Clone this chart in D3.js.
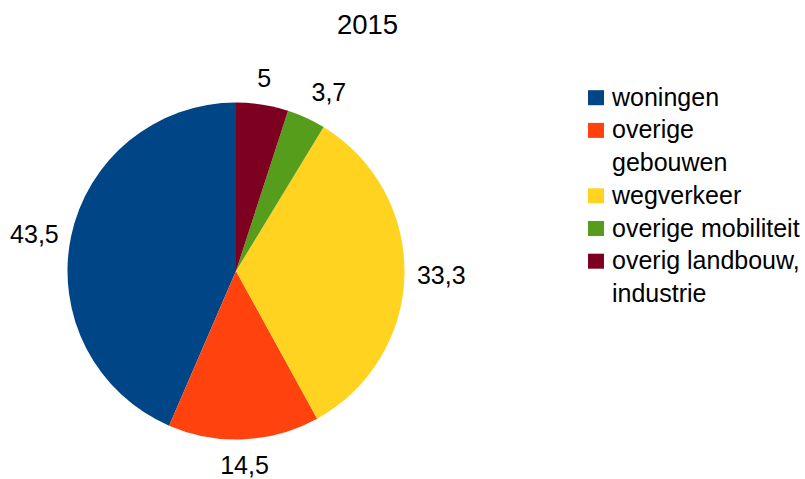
<!DOCTYPE html>
<html><head><meta charset="utf-8">
<script src="https://cdn.jsdelivr.net/npm/d3@7"></script>
<style>body{margin:0;background:#fff}svg{display:block}text{font-family:"Liberation Sans",Arial,sans-serif;fill:#000}</style>
</head><body><svg id="c" width="805" height="479"></svg>
<script>
const title = "2015";
const categories = ["woningen", "overige gebouwen", "wegverkeer", "overige mobiliteit", "overig landbouw, industrie"];
const legendLines = [["woningen"], ["overige", "gebouwen"], ["wegverkeer"], ["overige mobiliteit"], ["overig landbouw,", "industrie"]];
const values = [43.5, 14.5, 33.3, 3.7, 5];
const valueLabels = ["43,5", "14,5", "33,3", "3,7", "5"];
const colors = ["#004586", "#ff420e", "#ffd320", "#579d1c", "#7e0021"];

const svg = d3.select("#c");
const W = 805, H = 479;
svg.append("rect").attr("width", W).attr("height", H).attr("fill", "#fff");

svg.append("text").attr("x", 367.5).attr("y", 34).attr("text-anchor", "middle")
  .attr("font-size", 27.5).text(title);

const cx = 236, cy = 271, r = 168.5;
const pie = d3.pie().sort(null).value(d => d).startAngle(0).endAngle(-2 * Math.PI);
const arcs = pie(values);
const arc = d3.arc().innerRadius(0).outerRadius(r);
const g = svg.append("g").attr("transform", `translate(${cx},${cy})`);
g.selectAll("path").data(arcs).enter().append("path")
  .attr("d", arc).attr("fill", (d, i) => colors[i]);

// labels
const fs = 25, asc = 0.905 * fs, desc = 0.212 * fs;
const R = r + 12.5;
arcs.forEach((d, i) => {
  const mid = (d.startAngle + d.endAngle) / 2;
  let deg = ((mid * 180 / Math.PI) % 360 + 360) % 360;
  const px = R * Math.sin(mid), py = -R * Math.cos(mid);
  let baseline;
  const sector = Math.floor(((deg + 22.5) % 360) / 45);
  const hA = ["middle", "start", "start", "start", "middle", "end", "end", "end"][sector];
  const vA = ["bottom", "bottom", "middle", "top", "top", "top", "middle", "bottom"][sector];
  if (vA === "bottom") baseline = py - desc;
  else if (vA === "top") baseline = py + asc;
  else baseline = py + (asc - desc) / 2;
  g.append("text").attr("x", px).attr("y", baseline).attr("text-anchor", hA)
    .attr("font-size", fs).text(valueLabels[i]);
});

// legend
const lx = 588, ly0 = 97.7, lh = 32.7, sq = 15;
let line = 0;
legendLines.forEach((lines, i) => {
  const yc = ly0 + line * lh;
  svg.append("rect").attr("x", lx).attr("y", yc - sq / 2).attr("width", sq + 1).attr("height", sq)
    .attr("fill", colors[i]);
  lines.forEach((t, j) => {
    svg.append("text").attr("x", 612).attr("y", yc + 8 + j * lh).attr("font-size", fs).text(t);
  });
  line += lines.length;
});
</script></body></html>
